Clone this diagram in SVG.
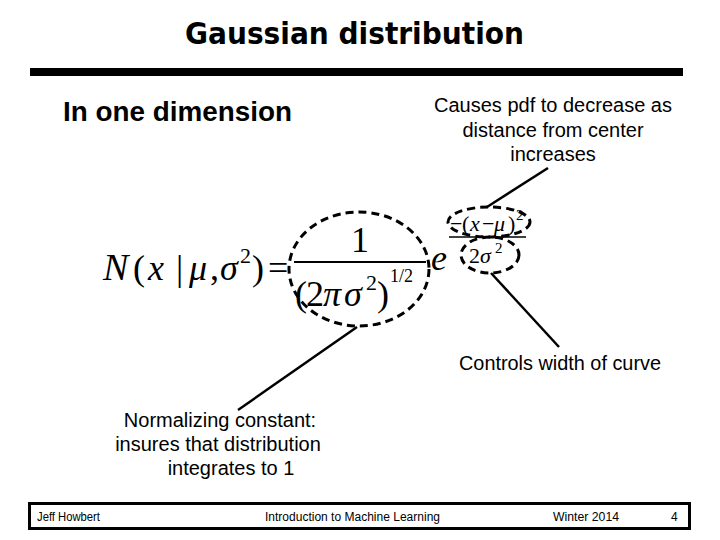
<svg xmlns="http://www.w3.org/2000/svg" width="720" height="540" viewBox="0 0 720 540">
<style>
.lbl{font-family:"Liberation Sans",Arial,sans-serif;font-size:20px;fill:#000}
.ft{font-family:"Liberation Sans",Arial,sans-serif;font-size:12px;fill:#000}
.m{font-family:"Liberation Serif","Times New Roman",serif;fill:#000}
.it{font-style:italic}
.dash{fill:none;stroke:#000;stroke-width:3;stroke-dasharray:8 5}
.conn line{stroke:#000;stroke-width:2.5}
</style>
<rect width="720" height="540" fill="#fff"/>
<g id="title">
<text x="185" y="44" font-family="'DejaVu Sans Condensed','DejaVu Sans',sans-serif" font-weight="bold" font-size="31" textLength="339" lengthAdjust="spacingAndGlyphs">Gaussian distribution</text>
<rect x="30" y="68" width="653" height="8" fill="#000"/>
</g>
<g id="subtitle">
<text x="63" y="121" font-family="'Liberation Sans',Arial,sans-serif" font-weight="bold" font-size="27" textLength="229" lengthAdjust="spacingAndGlyphs">In one dimension</text>
</g>
<g id="formula">
<text class="m" font-size="36" y="280"><tspan x="103" class="it" font-size="38">N</tspan><tspan x="133">(</tspan><tspan x="148" class="it">x</tspan><tspan x="176">|</tspan><tspan x="189" class="it">μ</tspan><tspan x="210">,</tspan><tspan x="220" class="it">σ</tspan><tspan x="252">)</tspan><tspan x="268">=</tspan></text>
<text class="m" font-size="22" x="240" y="263">2</text>
<text class="m" font-size="36" x="351" y="252">1</text>
<line x1="294" y1="262" x2="426" y2="262" stroke="#000" stroke-width="2"/>
<text class="m" font-size="36" y="306"><tspan x="295">(</tspan><tspan x="306">2</tspan><tspan x="323" class="it">π</tspan><tspan x="344" class="it">σ</tspan><tspan x="377">)</tspan></text>
<text class="m" font-size="22" x="366" y="290">2</text>
<text class="m" font-size="18" x="390" y="282">1/2</text>
<text class="m it" font-size="36" x="431" y="270">e</text>
<text class="m" font-size="22" y="231"><tspan x="450">−</tspan><tspan x="462">(</tspan><tspan x="470" class="it">x</tspan><tspan x="482">−</tspan><tspan x="494" class="it">μ</tspan><tspan x="508">)</tspan></text>
<text class="m" font-size="15" x="516" y="220">2</text>
<line x1="449" y1="237" x2="526" y2="237" stroke="#000" stroke-width="1.5"/>
<text class="m" font-size="22" y="263"><tspan x="469">2</tspan><tspan x="480" class="it">σ</tspan></text>
<text class="m" font-size="15" x="495" y="253">2</text>
</g>
<g id="ellipse-norm"><ellipse class="dash" cx="359" cy="269" rx="70" ry="57"/></g>
<g id="ellipse-num"><ellipse class="dash" cx="489" cy="222" rx="41" ry="15"/></g>
<g id="ellipse-den"><ellipse class="dash" cx="490" cy="255" rx="29" ry="18"/></g>
<g class="conn" id="connectors">
<line x1="487" y1="207" x2="548" y2="168"/>
<line x1="491" y1="273" x2="559" y2="347"/>
<line x1="357" y1="327" x2="238" y2="410"/>
</g>
<g id="label-causes">
<text class="lbl" text-anchor="middle"><tspan x="553" y="112">Causes pdf to decrease as</tspan><tspan x="553" y="137">distance from center</tspan><tspan x="553" y="161">increases</tspan></text>
</g>
<g id="label-width"><text class="lbl" x="459" y="370" textLength="202" lengthAdjust="spacingAndGlyphs">Controls width of curve</text></g>
<g id="label-norm">
<text class="lbl" text-anchor="middle"><tspan x="220" y="427">Normalizing constant:</tspan><tspan x="218" y="451">insures that distribution</tspan><tspan x="231" y="475">integrates to 1</tspan></text>
</g>
<g id="footer">
<rect x="29.5" y="503.5" width="660" height="25" fill="none" stroke="#000" stroke-width="3"/>
<text class="ft" x="37" y="521" textLength="63" lengthAdjust="spacingAndGlyphs">Jeff Howbert</text>
<text class="ft" x="265" y="521" textLength="175" lengthAdjust="spacingAndGlyphs">Introduction to Machine Learning</text>
<text class="ft" x="553" y="521" textLength="66" lengthAdjust="spacingAndGlyphs">Winter 2014</text>
<text class="ft" x="671" y="521">4</text>
</g>
</svg>
